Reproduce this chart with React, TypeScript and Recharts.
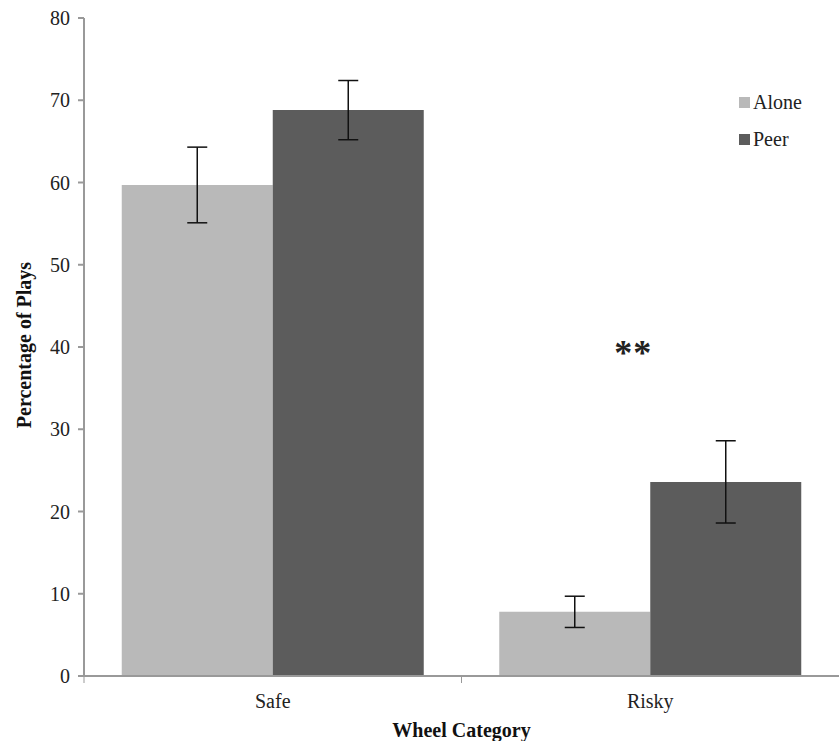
import React from "react";
import { BarChart, Bar, XAxis, YAxis, ErrorBar, ReferenceDot } from "recharts";

const categories = ["Safe", "Risky"];
const aloneValues = [59.7, 7.8];
const aloneErrors = [4.6, 1.9];
const peerValues = [68.8, 23.6];
const peerErrors = [3.6, 5.0];
const yTicks = [0, 10, 20, 30, 40, 50, 60, 70, 80];
const seriesNames = ["Alone", "Peer"];

const ALONE = "#b9b9b9";
const PEER = "#5c5c5c";
const AXIS = "#999999";
const FONT = "Liberation Serif";

const data = categories.map((name, i) => ({
  name,
  alone: aloneValues[i],
  aloneErr: aloneErrors[i],
  peer: peerValues[i],
  peerErr: peerErrors[i],
}));

function CategoryTick(props: any) {
  const { x, y, payload } = props;
  const half = payload?.offset ?? 0;
  return (
    <g>
      <line x1={x - half} x2={x - half} y1={y - 8} y2={y - 1} stroke={AXIS} strokeWidth={1} />
      <text
        x={x}
        y={y + 24}
        textAnchor="middle"
        style={{ fontFamily: FONT }}
        fontSize={20}
        fill="#222"
      >
        {payload.value}
      </text>
    </g>
  );
}

function LegendBox() {
  const colors = [ALONE, PEER];
  return (
    <div
      style={{
        position: "absolute",
        left: 739,
        top: 84,
        fontFamily: FONT,
        fontSize: 20,
        color: "#222",
      }}
    >
      {seriesNames.map((label, i) => (
        <div key={label} style={{ display: "flex", alignItems: "center", height: 37 }}>
          <span
            style={{ width: 11, height: 11, background: colors[i], marginRight: 3, display: "inline-block" }}
          />
          {label}
        </div>
      ))}
    </div>
  );
}

export default function App() {
  return (
    <div
      style={{
        position: "absolute",
        left: 0,
        top: 0,
        width: 839,
        height: 741,
        background: "#fff",
        fontFamily: FONT,
      }}
    >
      <BarChart
        width={839}
        height={741}
        data={data}
        margin={{ top: 18, right: 0, left: 0, bottom: 0 }}
        barCategoryGap="10%"
        barGap={0}
        style={{ fontFamily: FONT }}
      >
        <XAxis
          dataKey="name"
          height={65}
          stroke={AXIS}
          strokeWidth={2}
          tickLine={false}
          tick={<CategoryTick />}
          label={(p: any) => {
            const vb = p.viewBox;
            return (
              <text
                x={vb.x + vb.width / 2}
                y={vb.y + 61}
                textAnchor="middle"
                style={{ fontFamily: FONT }}
                fontWeight="bold"
                fontSize={20}
                fill="#111"
              >
                Wheel Category
              </text>
            );
          }}
        />
        <YAxis
          width={84}
          domain={[0, 80]}
          ticks={yTicks}
          interval={0}
          stroke={AXIS}
          strokeWidth={2}
          tickSize={6}
          tickMargin={8}
          tick={{ fontSize: 20, fill: "#222", style: { fontFamily: FONT } }}
          label={(p: any) => {
            const vb = p.viewBox;
            const cy = vb.y + vb.height / 2 - 2;
            return (
              <text
                x={24}
                y={cy}
                transform={`rotate(-90, 24, ${cy})`}
                textAnchor="middle"
                dominantBaseline="central"
                style={{ fontFamily: FONT }}
                fontWeight="bold"
                fontSize={20}
                fill="#111"
              >
                Percentage of Plays
              </text>
            );
          }}
        />
        <Bar dataKey="alone" name="Alone" fill={ALONE} isAnimationActive={false}>
          <ErrorBar dataKey="aloneErr" direction="y" width={10} stroke="#111" strokeWidth={1.5} />
        </Bar>
        <Bar dataKey="peer" name="Peer" fill={PEER} isAnimationActive={false}>
          <ErrorBar dataKey="peerErr" direction="y" width={10} stroke="#111" strokeWidth={1.5} />
        </Bar>
        <ReferenceDot
          x="Risky"
          y={40}
          r={0}
          fill="none"
          stroke="none"
          label={(p: any) => {
            const vb = p.viewBox;
            const cx = vb.x + (vb.width || 0) / 2;
            const cy = vb.y + (vb.height || 0) / 2;
            return (
              <text
                x={cx - 17}
                y={cy + 18}
                textAnchor="middle"
                style={{ fontFamily: FONT, letterSpacing: 1 }}
                fontWeight="bold"
                fontSize={36}
                fill="#222"
              >
                **
              </text>
            );
          }}
        />
      </BarChart>
      <LegendBox />
    </div>
  );
}
